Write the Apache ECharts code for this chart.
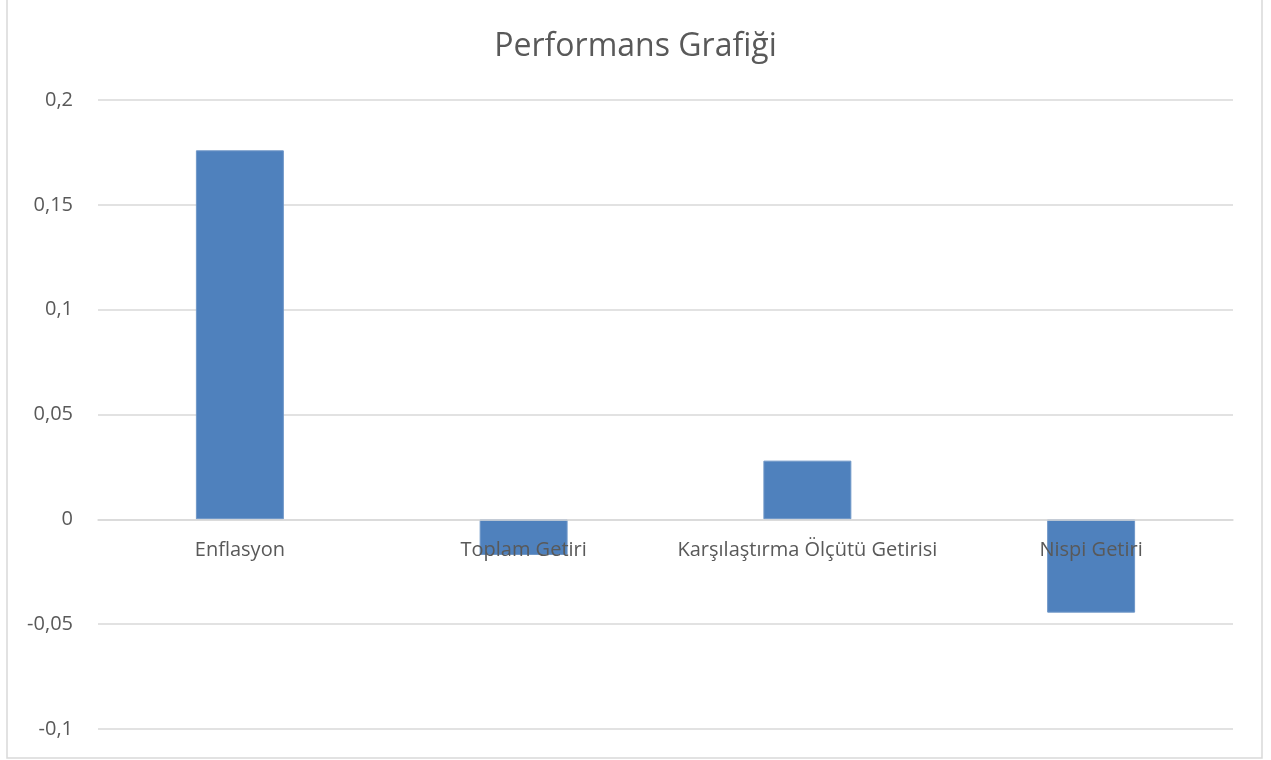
<!DOCTYPE html>
<html lang="tr">
<head>
    <meta charset="UTF-8">
    <title>Performans Grafiği</title>
    <style>
        html, body { margin: 0; padding: 0; background: #fff; }
        #chart { width: 1271px; height: 760px; }
    </style>
</head>
<body>
<div id="chart"></div>
<script src="https://cdn.jsdelivr.net/npm/echarts@6/dist/echarts.min.js"></script>
<script>
    var categories = ['Enflasyon', 'Toplam Getiri', 'Karşılaştırma Ölçütü Getirisi', 'Nispi Getiri'];
    var values = [0.176, -0.017, 0.028, -0.0445];
    var yTicks = { min: -0.1, max: 0.2, step: 0.05 };

    var textColor = '#595959';
    var lineColor = '#d9d9d9';
    var font = 'Open Sans';

    var gridTop = 100, gridBottom = 31;
    var plotH = 760 - gridTop - gridBottom;
    // category axis sits on the zero line
    var zeroOffset = plotH * (0 - yTicks.min) / (yTicks.max - yTicks.min);

    var myChart = echarts.init(document.getElementById('chart'));
    var option = {
        animation: false,
        title: {
            text: 'Performans Grafiği',
            left: 'center',
            top: 26,
            textStyle: { fontFamily: font, fontSize: 32, fontWeight: 'normal', color: textColor }
        },
        graphic: [{
            type: 'rect',
            shape: { x: 7, y: -2, width: 1255, height: 760 },
            style: { fill: 'none', stroke: lineColor, lineWidth: 1.5 },
            silent: true
        }],
        grid: { left: 98, right: 38, top: gridTop, bottom: gridBottom, outerBoundsMode: 'none', containLabel: false },
        xAxis: {
            type: 'category',
            data: categories,
            z: 10,
            offset: -zeroOffset,
            axisLine: { onZero: false, lineStyle: { color: lineColor, width: 1.5 } },
            axisTick: { show: false },
            axisLabel: { margin: 21, fontFamily: font, fontSize: 20, color: textColor, interval: 0 }
        },
        yAxis: {
            type: 'value',
            min: yTicks.min,
            max: yTicks.max,
            interval: yTicks.step,
            axisLine: { show: false },
            axisTick: { show: false },
            splitLine: { lineStyle: { color: lineColor, width: 1.5 } },
            axisLabel: {
                margin: 25,
                fontFamily: font,
                fontSize: 20,
                color: textColor,
                formatter: function (v) { return String(+v.toFixed(2)).replace('.', ','); }
            }
        },
        series: [{
            type: 'bar',
            data: values,
            barWidth: '31%',
            itemStyle: { color: '#4f81bd', borderColor: '#6f97c8', borderWidth: 1 }
        }]
    };
    myChart.setOption(option);
</script>
</body>
</html>
